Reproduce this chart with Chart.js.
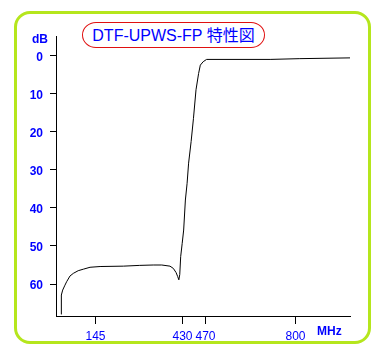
<!DOCTYPE html>
<html>
<head>
<meta charset="utf-8">
<script src="https://cdn.jsdelivr.net/npm/chart.js@4/dist/chart.umd.min.js"></script>
<style>
  html, body { margin: 0; padding: 0; background: #fff; }
  #wrap { position: relative; width: 388px; height: 358px; overflow: hidden; }
  #frame { position: absolute; left: 14px; top: 11px; width: 351px; height: 327px;
           border: 3px solid #b5e61d; border-radius: 16px; }
  #title { position: absolute; left: 82px; top: 22px; width: 181px; height: 24px;
           border: 1px solid #e01010; border-radius: 14px / 13px;
           font: 16px "Liberation Sans", Arial, "Noto Sans CJK JP", sans-serif;
           color: #0000ff; line-height: 25px; text-align: center; white-space: nowrap; }
  canvas { position: absolute; left: 0; top: 0; }
</style>
</head>
<body>
<div id="wrap">
  <div id="frame"></div>
  <div id="title">DTF-UPWS-FP 特性図</div>
  <canvas id="c" width="388" height="358"></canvas>
</div>
<script>
// ---- data ----
const chartTitle = "DTF-UPWS-FP 特性図";
const yUnit = "dB";
const xUnit = "MHz";
const xTickValues = [145, 430, 470, 800];
const xTickLabels = ["145", "430", "470", "800"];
const yTickValues = [0, 10, 20, 30, 40, 50, 60];
const yTickLabels = ["0", "10", "20", "30", "40", "50", "60"];
const freqMHz = [32.4, 32.6, 37, 44.5, 50, 61, 72, 88, 105, 127, 160, 236, 290, 334, 362, 389, 400, 409, 414, 418, 421, 424, 429, 432, 435, 438, 440.6, 445, 449, 453.5, 458, 461, 466, 474, 707, 816, 1000];
const attenDB = [68.0, 62.9, 61.6, 60.3, 59.4, 57.9, 57.2, 56.5, 56.1, 55.6, 55.4, 55.3, 55.1, 55.0, 55.0, 55.3, 55.9, 57.0, 58.0, 58.9, 57.5, 52.8, 49.3, 45.8, 37.9, 33.5, 28.2, 22.5, 16.5, 8.9, 4.6, 2.4, 1.5, 0.9, 0.9, 0.7, 0.5];

// ---- piecewise frequency axis (expanded 430-470 band) ----
const xAxisBreaks = [15, 145, 430, 470, 800, 1000];
const xAxisBreakFractions = [0, 0.1344, 0.4303, 0.5085, 0.8146, 1];

function mhzToFrac(v) {
  const k = xAxisBreaks, f = xAxisBreakFractions;
  let i = 0;
  while (i < k.length - 2 && v > k[i + 1]) i++;
  return f[i] + (v - k[i]) / (k[i + 1] - k[i]) * (f[i + 1] - f[i]);
}
function fracToMhz(d) {
  const k = xAxisBreaks, f = xAxisBreakFractions;
  let i = 0;
  while (i < f.length - 2 && d > f[i + 1]) i++;
  return k[i] + (d - f[i]) / (f[i + 1] - f[i]) * (k[i + 1] - k[i]);
}
class PiecewiseScale extends Chart.LinearScale {
  getPixelForValue(value) {
    if (value === null || value === undefined) return NaN;
    return this.getPixelForDecimal(mhzToFrac(value));
  }
  getValueForPixel(pixel) {
    return fracToMhz(this.getDecimalForPixel(pixel));
  }
}
PiecewiseScale.id = 'piecewise';
PiecewiseScale.defaults = {};
Chart.register(PiecewiseScale);

const FONT = '"Liberation Sans", Arial, sans-serif';
const BLUE = '#0000ff';

const unitLabels = {
  id: 'unitLabels',
  afterDraw(chart) {
    const ctx = chart.ctx, a = chart.chartArea;
    ctx.save();
    ctx.fillStyle = BLUE;
    ctx.font = 'bold 12px ' + FONT;
    ctx.textBaseline = 'middle';
    ctx.textAlign = 'right';
    ctx.fillText(yUnit, a.left - 8, a.top + 3.5);
    ctx.textAlign = 'left';
    ctx.fillText(xUnit, a.right - 33, a.bottom + 15.5);
    ctx.restore();
  }
};

new Chart(document.getElementById('c'), {
  type: 'line',
  data: {
    datasets: [{
      data: freqMHz.map((x, i) => ({ x: x, y: attenDB[i] })),
      borderColor: '#000',
      borderWidth: 1,
      pointRadius: 0,
      tension: 0,
      fill: false
    }]
  },
  options: {
    responsive: false,
    devicePixelRatio: 1,
    animation: false,
    layout: { padding: { left: 0, top: 36, right: 38, bottom: 0 } },
    plugins: { legend: { display: false }, tooltip: { enabled: false }, title: { display: false } },
    scales: {
      x: {
        type: 'piecewise',
        position: 'bottom',
        min: 15, max: 1000,
        afterBuildTicks: s => { s.ticks = xTickValues.map(v => ({ value: v })); },
        afterFit: s => { s.height = 42; },
        ticks: {
          autoSkip: false, maxRotation: 0, minRotation: 0,
          color: BLUE, font: { family: FONT, size: 12 }, padding: 5,
          callback: (v, i) => xTickLabels[i]
        },
        grid: { drawOnChartArea: false, drawTicks: true, tickLength: 8, color: '#000', lineWidth: 1 },
        border: { display: true, color: '#000', width: 1 }
      },
      y: {
        type: 'linear',
        position: 'left',
        reverse: true,
        min: -5.26, max: 68.42,
        afterBuildTicks: s => { s.ticks = yTickValues.map(v => ({ value: v })); },
        afterFit: s => { s.width = 56; },
        ticks: {
          autoSkip: false,
          color: BLUE, font: { family: FONT, size: 12, weight: 'bold' }, padding: 7,
          labelOffset: 1.5,
          callback: (v, i) => yTickLabels[i]
        },
        grid: { drawOnChartArea: false, drawTicks: true, tickLength: 6, color: '#000', lineWidth: 1 },
        border: { display: true, color: '#000', width: 1 }
      }
    }
  },
  plugins: [unitLabels]
});
</script>
</body>
</html>
